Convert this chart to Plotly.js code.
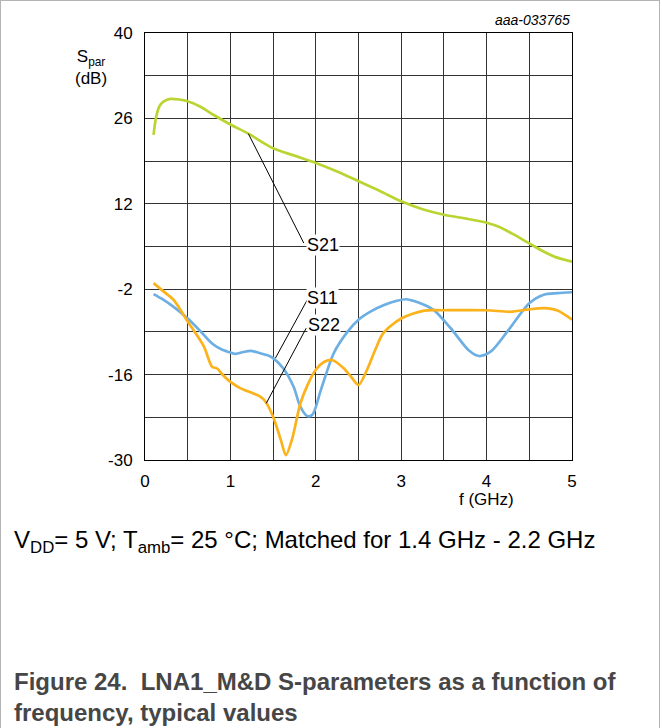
<!DOCTYPE html>
<html>
<head>
<meta charset="utf-8">
<script src="https://cdn.plot.ly/plotly-3.0.1.min.js"></script>
<style>
  html, body { margin: 0; padding: 0; background: #fff; }
  #wrap { position: relative; width: 662px; height: 728px; }
  #chart { width: 662px; height: 728px; }
  #frame { position: absolute; left: 0; top: 0; width: 660px; height: 740px; border: 1px solid #b4b4b4; box-sizing: border-box; pointer-events: none; }
</style>
</head>
<body>
<div id="wrap"><div id="chart"></div><div id="frame"></div></div>
<script>
// ---- data (frequency in GHz, S-parameters in dB) ----
const s21Freq = [0.10,0.13,0.17,0.22,0.30,0.40,0.50,0.65,0.80,1.00,1.21,1.50,1.75,2.00,2.25,2.50,2.75,3.00,3.25,3.50,3.75,4.00,4.15,4.30,4.50,4.65,4.80,5.00];
const s21Val  = [23.3,26.2,28.0,28.8,29.2,29.1,28.8,27.9,26.6,25.0,23.5,21.1,19.9,18.7,17.3,15.7,14.1,12.4,11.1,10.2,9.6,8.9,8.2,7.1,5.5,4.3,3.3,2.5];

const s11Freq = [0.10,0.20,0.335,0.50,0.65,0.785,0.90,0.96,1.06,1.15,1.235,1.35,1.45,1.50,1.62,1.74,1.82,1.90,1.96,2.06,2.21,2.37,2.50,2.65,2.80,2.95,3.06,3.14,3.26,3.38,3.58,3.79,3.91,4.05,4.24,4.50,4.67,4.83,5.00];
const s11Val  = [-2.8,-3.6,-4.9,-6.8,-8.9,-10.9,-11.9,-12.2,-12.6,-12.3,-12.1,-12.5,-12.9,-13.3,-15.0,-18.0,-21.3,-22.8,-22.6,-18.5,-12.5,-9.0,-7.0,-5.6,-4.6,-3.9,-3.65,-3.9,-4.5,-5.4,-8.4,-12.0,-12.95,-12.2,-9.0,-4.3,-2.9,-2.65,-2.5];

const s22Freq = [0.10,0.22,0.335,0.50,0.69,0.785,0.845,0.92,1.00,1.12,1.27,1.35,1.41,1.50,1.59,1.65,1.72,1.82,1.90,2.00,2.10,2.19,2.33,2.41,2.50,2.60,2.70,2.79,3.00,3.27,3.50,4.00,4.28,4.50,4.67,4.83,5.00];
const s22Val  = [-1.0,-2.4,-3.75,-7.3,-11.4,-14.7,-15.0,-16.2,-17.2,-18.25,-19.1,-19.6,-20.4,-22.9,-26.7,-29.2,-26.7,-20.7,-17.8,-15.2,-13.9,-13.6,-15.0,-16.3,-17.7,-15.2,-11.8,-9.2,-6.8,-5.5,-5.45,-5.45,-5.7,-5.3,-5.1,-5.5,-7.0];

// axis ticks: labelled major ticks and unlabelled minor grid steps
const xRange = [0, 5];
const xTickVals = [0, 1, 2, 3, 4, 5];
const xTickText = ['0', '1', '2', '3', '4', '5'];
const xMinorStep = 0.5;
const yRange = [-30, 40];
const yTickVals = [-30, -16, -2, 12, 26, 40];
const yTickText = ['-30', '-16', '-2', '12', '26', '40'];
const yMinorStep = 7;

// curve labels: name, label position, leader line start (label side) and end (on curve)
const labelNames = ['S21','S11','S22'];
const labelX     = [2.09, 2.08, 2.10];
const labelY     = [5.3, -3.4, -7.8];
const leaderX0   = [1.86, 1.90, 1.887];
const leaderY0   = [5.55, -3.75, -8.4];
const leaderX1   = [1.21, 1.527, 1.42];
const leaderY1   = [23.5, -13.3, -20.7];

const FONT = '"Liberation Sans", Arial, sans-serif';

const traces = [
  {x: s21Freq, y: s21Val, mode: 'lines', line: {color: '#bcd431', width: 2.7, shape: 'spline', smoothing: 0.8}},
  {x: s11Freq, y: s11Val, mode: 'lines', line: {color: '#6dafe3', width: 2.7, shape: 'spline', smoothing: 0.8}},
  {x: s22Freq, y: s22Val, mode: 'lines', line: {color: '#fbb21b', width: 2.7, shape: 'spline', smoothing: 0.8}}
];

const shapes = labelNames.map((n, i) => ({
  type: 'line', xref: 'x', yref: 'y',
  x0: leaderX0[i], y0: leaderY0[i], x1: leaderX1[i], y1: leaderY1[i],
  line: {color: '#000', width: 1}
}));

const annotations = labelNames.map((n, i) => ({
  x: labelX[i], y: labelY[i], xref: 'x', yref: 'y', text: n, showarrow: false,
  font: {family: FONT, size: 18, color: '#000'}, bgcolor: '#fff', borderpad: 0
}));

annotations.push(
  {xref: 'paper', yref: 'paper', x: -0.126, y: 0.92, text: 'S<sub>par</sub><br>(dB)', showarrow: false,
   font: {family: FONT, size: 17, color: '#000'}, align: 'center', xanchor: 'center', yanchor: 'middle'},
  {xref: 'x', yref: 'paper', x: 4.0, y: -0.092, text: 'f (GHz)', showarrow: false,
   font: {family: FONT, size: 17, color: '#000'}, xanchor: 'center', yanchor: 'middle'},
  {xref: 'paper', yref: 'paper', x: 1.0, y: 1.031, text: '<i>aaa-033765</i>', showarrow: false,
   font: {family: FONT, size: 14, color: '#000'}, xanchor: 'right', yanchor: 'middle'},
  {xref: 'paper', yref: 'paper', x: -0.3115, y: -0.19, text: 'V<sub>DD</sub>= 5 V; T<sub>amb</sub>= 25 °C; Matched for 1.4 GHz - 2.2 GHz', showarrow: false,
   font: {family: FONT, size: 24, color: '#000'}, xanchor: 'left', yanchor: 'middle', align: 'left'},
  {xref: 'paper', yref: 'paper', x: -0.3115, y: -0.556, text: '<b>Figure 24.&nbsp; LNA1_M&amp;D S-parameters as a function of<br>frequency, typical values</b>', showarrow: false,
   font: {family: FONT, size: 24, color: '#464646'}, xanchor: 'left', yanchor: 'middle', align: 'left'}
);

const axisCommon = {
  showgrid: true, gridcolor: '#333', gridwidth: 1, zeroline: false,
  showline: true, linecolor: '#000', linewidth: 1, mirror: true,
  ticks: '', tickmode: 'array', tickfont: {family: FONT, size: 17, color: '#000'}, fixedrange: true
};

const layout = {
  width: 662, height: 728,
  margin: {l: 145, r: 90, t: 33, b: 268},
  paper_bgcolor: '#fff', plot_bgcolor: '#fff',
  showlegend: false,
  xaxis: Object.assign({}, axisCommon, {
    range: xRange, tickvals: xTickVals, ticktext: xTickText, ticklabelstandoff: 6,
    minor: {tick0: xRange[0], dtick: xMinorStep, showgrid: true, gridcolor: '#333', gridwidth: 1, ticks: ''}
  }),
  yaxis: Object.assign({}, axisCommon, {
    range: yRange, tickvals: yTickVals, ticktext: yTickText, ticklabelstandoff: 8,
    minor: {tick0: yRange[0], dtick: yMinorStep, showgrid: true, gridcolor: '#333', gridwidth: 1, ticks: ''}
  }),
  shapes: shapes,
  annotations: annotations
};

Plotly.newPlot('chart', traces, layout, {displayModeBar: false, staticPlot: true});
</script>
</body>
</html>
